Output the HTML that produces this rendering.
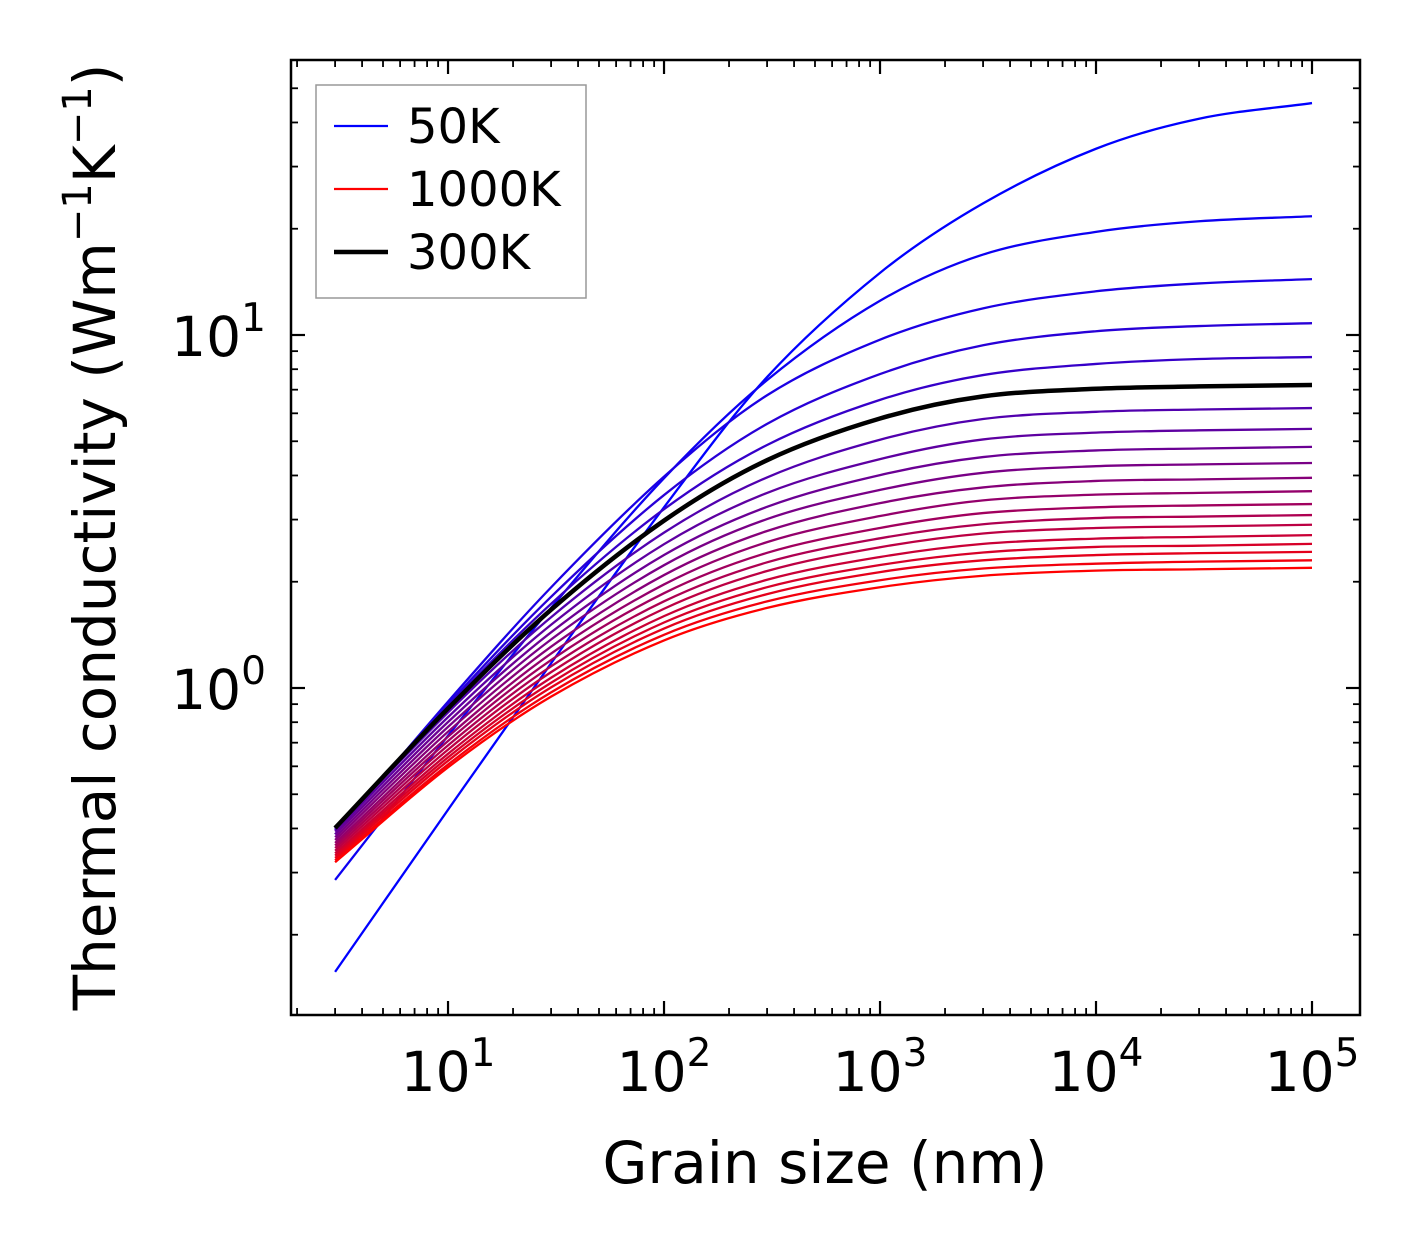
<!DOCTYPE html>
<html><head><meta charset="utf-8"><style>
html,body{margin:0;padding:0;background:#fff;}
svg{display:block;font-family:"DejaVu Sans","Liberation Sans",sans-serif;}
</style></head><body>
<svg id="chart" width="1421" height="1254" viewBox="0 0 1421 1254" xmlns="http://www.w3.org/2000/svg">
<rect x="0" y="0" width="1421" height="1254" fill="#fff"/>
<g id="series"></g>
<g id="ticks"></g>
<rect x="291" y="60" width="1069" height="955" fill="none" stroke="#000" stroke-width="2.5"/>
<g id="labels" font-size="55" fill="#000"></g>
<text x="825" y="1183" font-size="58" text-anchor="middle">Grain size (nm)</text>
<text transform="translate(115,537) rotate(-90)" font-size="58" text-anchor="middle">Thermal conductivity (Wm<tspan dy="-24" font-size="40">−1</tspan><tspan dy="24">K</tspan><tspan dy="-24" font-size="40">−1</tspan><tspan dy="24">)</tspan></text>
<g>
<rect x="316" y="85" width="270" height="213" fill="#fff" stroke="#999" stroke-width="1.5"/>
<line x1="334" y1="126" x2="388" y2="126" stroke="#0000ff" stroke-width="2.2"/>
<text x="407" y="143" font-size="48">50K</text>
<line x1="334" y1="189" x2="388" y2="189" stroke="#ff0000" stroke-width="2.2"/>
<text x="407" y="206" font-size="48">1000K</text>
<line x1="334" y1="252" x2="388" y2="252" stroke="#000" stroke-width="4.5"/>
<text x="407" y="269" font-size="48">300K</text>
</g>
</svg>
<script>
const grainSizes = [3, 10, 30, 100, 300, 1000, 3000, 10000, 30000, 100000];
const temperatures = [50,100,150,200,250,300,350,400,450,500,550,600,650,700,750,800,850,900,950,1000];
const k50   = [0.157,0.452,1.175,3.25,7.6,15.0,23.6,33.7,41.0,45.4];
const k100  = [0.286,0.733,1.686,3.93,7.45,12.5,16.9,19.6,21.0,21.7];
const k150  = [0.385,0.915,1.928,3.97,6.75,9.7,11.9,13.3,14.0,14.4];
const k200  = [0.395,0.899,1.813,3.52,5.6,7.75,9.35,10.25,10.6,10.8];
const k250  = [0.400,0.887,1.732,3.21,4.88,6.55,7.7,8.28,8.55,8.66];
const k300  = [0.401,0.875,1.667,2.98,4.42,5.8,6.7,7.04,7.15,7.22];
const k350  = [0.398,0.853,1.587,2.755,3.95,5.05,5.78,6.06,6.15,6.21];
const k400  = [0.392,0.827,1.511,2.555,3.57,4.45,5.06,5.29,5.37,5.42];
const k450  = [0.385,0.801,1.438,2.381,3.26,4.01,4.51,4.71,4.77,4.82];
const k500  = [0.378,0.776,1.372,2.228,3.01,3.64,4.07,4.25,4.30,4.34];
const k550  = [0.371,0.752,1.309,2.089,2.785,3.34,3.70,3.86,3.90,3.94];
const k600  = [0.364,0.728,1.252,1.965,2.59,3.07,3.40,3.53,3.57,3.61];
const k650  = [0.358,0.708,1.200,1.856,2.415,2.84,3.13,3.25,3.29,3.32];
const k700  = [0.352,0.688,1.152,1.760,2.27,2.655,2.91,3.03,3.06,3.09];
const k750  = [0.346,0.669,1.109,1.677,2.145,2.505,2.74,2.84,2.87,2.90];
const k800  = [0.340,0.651,1.069,1.598,2.026,2.35,2.56,2.65,2.68,2.71];
const k850  = [0.335,0.636,1.035,1.533,1.93,2.23,2.42,2.51,2.53,2.56];
const k900  = [0.330,0.622,1.004,1.474,1.845,2.13,2.30,2.38,2.41,2.43];
const k950  = [0.325,0.607,0.972,1.415,1.759,2.02,2.18,2.25,2.28,2.30];
const k1000 = [0.321,0.596,0.945,1.364,1.686,1.93,2.08,2.15,2.17,2.19];
const xTickLabels = ["1","2","3","4","5"];
const yTickLabels = ["0","1"];

const allSeries = [k50,k100,k150,k200,k250,k300,k350,k400,k450,k500,k550,k600,k650,k700,k750,k800,k850,k900,k950,k1000];
const NS = "http://www.w3.org/2000/svg";
const X0 = 291, X1 = 1360, Y0 = 60, Y1 = 1015;
const xMinL = Math.log10(1.875), xMaxL = 5 + 48/216;
const yMinL = -327/353, yMaxL = 1 + 275/353;
function xs(v){ return X0 + (Math.log10(v) - xMinL) / (xMaxL - xMinL) * (X1 - X0); }
function ys(v){ return Y1 - (Math.log10(v) - yMinL) / (yMaxL - yMinL) * (Y1 - Y0); }

function pathFor(vals){
  const p = grainSizes.map((d,i)=>[xs(d), ys(vals[i])]);
  let s = "M" + p[0][0].toFixed(2) + "," + p[0][1].toFixed(2);
  for (let i=0;i<p.length-1;i++){
    const a = p[Math.max(i-1,0)], b = p[i], c = p[i+1], e = p[Math.min(i+2,p.length-1)];
    const h = c[0]-b[0];
    const m1 = (c[1]-a[1])/(c[0]-a[0]), m2 = (e[1]-b[1])/(e[0]-b[0]);
    s += " C" + (b[0]+h/3).toFixed(2)+","+(b[1]+m1*h/3).toFixed(2)+" "+(c[0]-h/3).toFixed(2)+","+(c[1]-m2*h/3).toFixed(2)+" "+c[0].toFixed(2)+","+c[1].toFixed(2);
  }
  return s;
}

const sg = document.getElementById("series");
const blackIdx = temperatures.indexOf(300);
allSeries.forEach((vals, i) => {
  if (i === blackIdx) return;
  const t = i / (allSeries.length - 1);
  const r = Math.round(255 * t), b = Math.round(255 * (1 - t));
  const el = document.createElementNS(NS, "path");
  el.setAttribute("d", pathFor(vals));
  el.setAttribute("fill", "none");
  el.setAttribute("stroke", "rgb(" + r + ",0," + b + ")");
  el.setAttribute("stroke-width", "2.3");
  
  
  sg.appendChild(el);
});
{
  const el = document.createElementNS(NS, "path");
  el.setAttribute("d", pathFor(allSeries[blackIdx]));
  el.setAttribute("fill", "none");
  el.setAttribute("stroke", "#000");
  el.setAttribute("stroke-width", "4.5");
  
  
  sg.appendChild(el);
}

const tg = document.getElementById("ticks");
function tick(x1,y1,x2,y2,w){
  const l = document.createElementNS(NS,"line");
  l.setAttribute("x1",x1);l.setAttribute("y1",y1);l.setAttribute("x2",x2);l.setAttribute("y2",y2);
  l.setAttribute("stroke","#000");l.setAttribute("stroke-width",w);
  
  
  tg.appendChild(l);
}
for (let e=0;e<=5;e++){
  for (let m=1;m<=9;m++){
    const v = m*Math.pow(10,e);
    const x = xs(v);
    if (x < X0+1 || x > X1-1) continue;
    const L = m===1 ? 14 : 7, w = m===1 ? 2.2 : 1.8;
    tick(x,Y1,x,Y1-L,w); tick(x,Y0,x,Y0+L,w);
  }
}
for (let e=-1;e<=1;e++){
  for (let m=1;m<=9;m++){
    const v = m*Math.pow(10,e);
    const y = ys(v);
    if (y < Y0+1 || y > Y1-1) continue;
    const L = m===1 ? 14 : 7, w = m===1 ? 2.2 : 1.8;
    tick(X0,y,X0+L,y,w); tick(X1,y,X1-L,y,w);
  }
}
const lg = document.getElementById("labels");
xTickLabels.forEach(s => {
  const x = xs(Math.pow(10, +s));
  const t = document.createElementNS(NS,"text");
  t.setAttribute("x", x); t.setAttribute("y", 1091); t.setAttribute("text-anchor","middle");
  t.innerHTML = '10<tspan dy="-25" font-size="39">' + s + '</tspan>';
  
  
  lg.appendChild(t);
});
yTickLabels.forEach(s => {
  const y = ys(Math.pow(10, +s));
  const t = document.createElementNS(NS,"text");
  t.setAttribute("x", 266); t.setAttribute("y", y + 21); t.setAttribute("text-anchor","end");
  t.innerHTML = '10<tspan dy="-25" font-size="39">' + s + '</tspan>';
  
  
  lg.appendChild(t);
});
</script>
</body></html>
